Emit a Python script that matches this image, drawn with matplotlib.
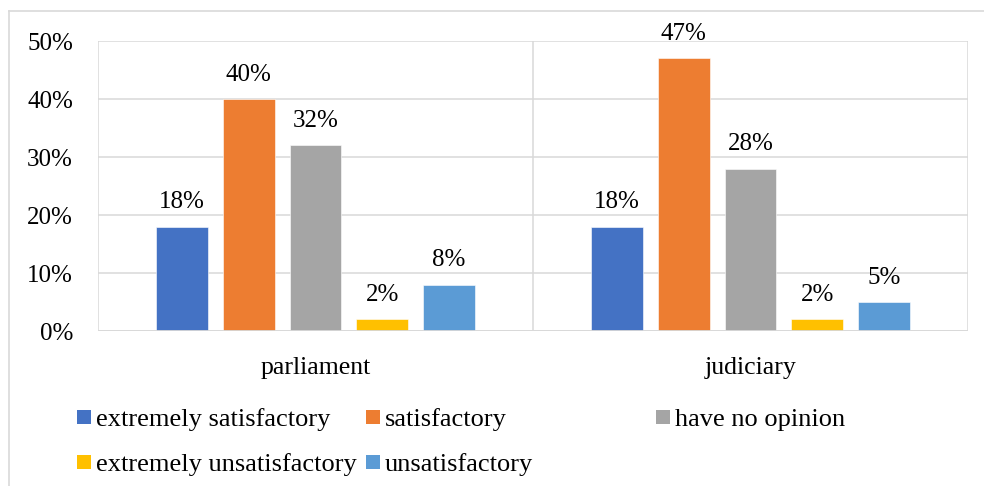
import numpy as np
import matplotlib
matplotlib.use("Agg")
import matplotlib.pyplot as plt
from matplotlib.lines import Line2D
from matplotlib.patches import Rectangle

# Survey data
categories = ["parliament", "judiciary"]
series = ["extremely satisfactory", "satisfactory", "have no opinion",
          "extremely unsatisfactory", "unsatisfactory"]
values = [
    [18, 18],   # extremely satisfactory
    [40, 47],   # satisfactory
    [32, 28],   # have no opinion
    [2, 2],     # extremely unsatisfactory
    [8, 5],     # unsatisfactory
]
colors = ["#4472C4", "#ED7D31", "#A5A5A5", "#FFC000", "#5B9BD5"]
yticks = [0, 10, 20, 30, 40, 50]

plt.rcParams['font.family'] = ['Liberation Serif', 'DejaVu Serif']
grid_color = "#D9D9D9"

fig = plt.figure(figsize=(9.84, 4.86), dpi=100)
ax = fig.add_axes([98 / 984, 1 - 331 / 486, 870 / 984, 290 / 486])

x = np.arange(len(categories)) + 0.5
width = 0.1195
step = 0.1533

bars = []
for i, (name, vals, col) in enumerate(zip(series, values, colors)):
    b = ax.bar(x + (i - 2) * step, vals, width, color=col, label=name,
               edgecolor="white", linewidth=0.4, zorder=3)
    bars.append(b)
    for rect, v in zip(b, vals):
        ax.annotate(f"{v}%", (rect.get_x() + rect.get_width() / 2, v),
                    xytext=(0, 9.5), textcoords="offset points",
                    ha="center", va="bottom", fontsize=18)

ax.set_xlim(0, 2)
ax.set_ylim(0, 50)
ax.set_yticks(yticks)
ax.set_yticklabels([f"{t}%" for t in yticks], fontsize=18)
ax.set_xticks(x)
ax.set_xticklabels(categories, fontsize=18.5)
ax.set_xticks([0, 1, 2], minor=True)
ax.tick_params(axis="both", which="both", length=0)
ax.tick_params(axis="y", pad=18)
ax.tick_params(axis="x", pad=19)

ax.grid(axis="y", color=grid_color, linewidth=1.1, zorder=0)
ax.grid(axis="x", which="minor", color=grid_color, linewidth=1.1, zorder=0)
ax.grid(axis="x", which="major", visible=False)
for s in ax.spines.values():
    s.set_visible(False)
ax.axhline(0, color=grid_color, linewidth=1.3, zorder=4)

# legend laid out in rows like the spreadsheet legend
W, H = 984, 486
legend_pos = [(77, 417), (366, 417), (656, 417), (77, 462), (366, 462)]
for (px, py), name, col in zip(legend_pos, series, colors):
    fig.add_artist(Rectangle((px / W, 1 - (py + 7) / H), 14 / W, 14 / H,
                             transform=fig.transFigure, facecolor=col,
                             edgecolor="none"))
    fig.text((px + 19) / W, 1 - py / H, name, fontsize=19,
             ha="left", va="center_baseline")

# chart frame
fig.add_artist(Line2D([9 / W, 1], [1 - 11 / H, 1 - 11 / H],
                      transform=fig.transFigure, color=grid_color, lw=1.2))
fig.add_artist(Line2D([9 / W, 9 / W], [0, 1 - 11 / H],
                      transform=fig.transFigure, color=grid_color, lw=1.2))

fig.savefig("out.png", dpi=100)
